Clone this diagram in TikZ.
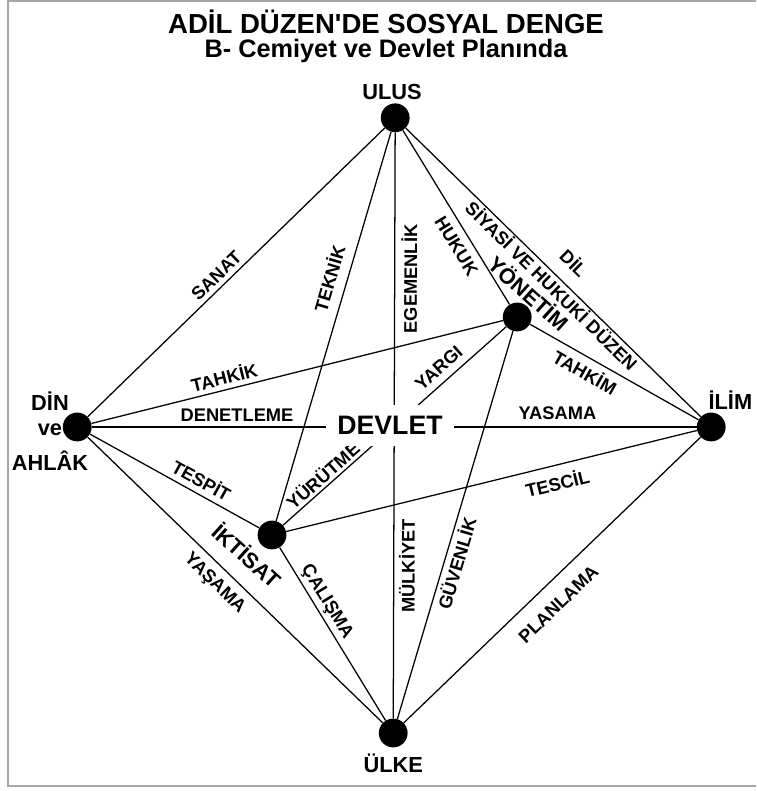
\documentclass[tikz,border=0pt]{standalone}
\usepackage{fontspec}
\setmainfont{Liberation Sans}
\tikzset{
  bigdot/.style={circle,fill=black,minimum size=0.72cm,inner sep=0pt},
  nametext/.style={font=\fontsize{15.5}{17.8}\selectfont\bfseries},
  lbl/.style={font=\fontsize{13}{15}\selectfont\bfseries,sloped,inner sep=2pt},
  edgeline/.style={line width=0.9pt},
}
\begin{document}
\begin{tikzpicture}
  \useasboundingbox (0,0) rectangle (18.9,19.775);
  % frame
  \draw [gray!70,line width=1.2pt](18.9,19.75) -- (0.2,19.75) -- (0.2,0.125) -- (18.9,0.125);
  % title
  \node (title) at(9.65,19.23){\bfseries\fontsize{19.6}{22}\selectfont ADİL DÜZEN\textquotesingle DE SOSYAL DENGE};
  \node (subtitle) at(9.65,18.5){\bfseries\fontsize{18}{20}\selectfont B- Cemiyet ve Devlet Planında};
  % dots
  \node [bigdot] (ulus) at(9.88,16.83){};
  \node [bigdot] (yonetim) at(12.93,11.85){};
  \node [bigdot] (din) at(1.93,9.1){};
  \node [bigdot] (ilim) at(17.78,9.1){};
  \node [bigdot] (iktisat) at(6.8,6.4){};
  \node [bigdot] (ulke) at(9.83,1.45){};
  % names
  \node [nametext] (ulusname) at(9.8,17.48){ULUS};
  \node [nametext,align=center] (dinname) at(1.25,9.0){DİN\\ve\\[7pt]AHLÂK};
  \node [nametext] (ilimname) at(18.26,9.78){İLİM};
  \node [nametext] (ulkename) at(9.83,0.68){ÜLKE};
  \node [nametext,rotate=-42] (yonetimname) at(13.23,12.45){YÖNETİM};
  \node [nametext,rotate=-42] (iktisatname) at(6.18,5.9){İKTİSAT};
  % ulus
  \draw [edgeline](din) -- node[lbl,above=1pt,pos=.46]{SANAT} (ulus);
  \draw [edgeline](iktisat) -- node[lbl,above=5pt,pos=.61]{TEKNİK} (ulus);
  \draw [edgeline](ulke) -- node[lbl,below=1.3pt,pos=.26]{MÜLKİYET} node[lbl,below=2.3pt,pos=.75]{EGEMENLİK} (ulus);
  \draw [edgeline](ulus) -- node[lbl,below=3.5pt,pos=.62]{HUKUK} (yonetim);
  \draw [edgeline](ulus) -- node[lbl,above=7.5pt,pos=.52]{DİL} node[lbl,below=-1pt,pos=.52]{SİYASİ VE HUKUKİ DÜZEN} (ilim);
  % yonetim
  \draw [edgeline](iktisat) -- node[lbl,above,pos=.21]{YÜRÜTME} node[lbl,above=3pt,pos=.74]{YARGI} (yonetim);
  \draw [edgeline](din) -- node[lbl,above=1.3pt,pos=.33]{TAHKİK} (yonetim);
  \draw [edgeline](yonetim) -- node[lbl,below=2pt,pos=.37]{TAHKİM} (ilim);
  \draw [edgeline](ulke) -- node[lbl,below=.3pt,pos=.41]{GÜVENLİK} (yonetim);
  % din
  \draw [edgeline](din) -- node[lbl,above=1.2pt,pos=.24]{DENETLEME} node[lbl,above=2.5pt,pos=.77]{YASAMA} (ilim);
  \draw [edgeline](din) -- node[lbl,above=2pt,pos=.62]{TESPİT} (iktisat);
  \draw [edgeline](din) -- node[lbl,below=3.8pt,pos=.47]{YAŞAMA} (ulke);
  % iktisat
  \draw [edgeline](iktisat) -- node[lbl,above,pos=.35]{ÇALIŞMA} (ulke);
  \draw [edgeline](iktisat) -- node[lbl,below=4.2pt,pos=.65]{TESCİL} (ilim);
  % ulke
  \draw [edgeline](ulke) -- node[lbl,below=8.5pt,pos=.47]{PLANLAMA} (ilim);
  % devlet
  \node [fill=white,inner sep=8pt,font=\fontsize{19}{22}\selectfont\bfseries] (devlet) at(9.75,9.13){DEVLET};
\end{tikzpicture}
\end{document}
